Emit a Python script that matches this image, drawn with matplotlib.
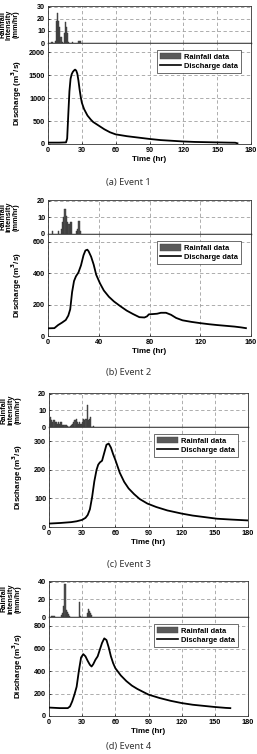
import numpy as np
import matplotlib
matplotlib.use('Agg')
import matplotlib.pyplot as plt
from matplotlib.patches import Patch
from matplotlib.lines import Line2D

plt.rcParams['font.family'] = ['Liberation Sans', 'DejaVu Sans']
plt.rcParams['font.weight'] = 'bold'

# ---- event 1 ----
ev1_rain_t = [3, 6, 7, 8, 9, 10, 11, 12, 14, 15, 16, 17, 18, 21, 27, 28]
ev1_rain_v = [1, 2, 18, 25, 18, 13, 5, 1, 8, 17, 13, 8, 1, 1, 2, 2]
ev1_q_t = [0, 5, 10, 16, 17, 18, 19, 20, 21, 22, 23, 24, 25, 26, 27, 28, 29, 30, 32, 35,
           38, 40, 45, 50, 55, 60, 70, 80, 90, 100, 110, 120, 130, 140, 150, 160, 166, 168]
ev1_q_v = [30, 30, 30, 35, 120, 650, 1150, 1420, 1520, 1570, 1600, 1620, 1600, 1530, 1380,
           1190, 1030, 900, 760, 620, 530, 480, 400, 320, 255, 210, 170, 140, 110, 85, 70,
           55, 45, 40, 35, 30, 28, 15]

# ---- event 2 ----
ev2_rain_t = [3, 8, 10, 11, 12, 13, 14, 15, 16, 17, 18, 22, 23, 24, 25]
ev2_rain_v = [2, 2, 3, 7, 10, 15, 11, 7, 6, 7, 7, 2, 3, 8, 2]
ev2_q_t = [0, 5, 8, 11, 14, 16, 17.5, 19, 20.5, 22, 24, 26, 28, 29.5, 31, 32, 34, 36, 38,
           41, 44, 48, 52, 57, 62, 67, 72, 76, 78, 79.5, 83, 86, 89, 93, 97, 101, 106, 113,
           120, 127, 133, 140, 147, 152, 156]
ev2_q_v = [49, 50, 70, 85, 102, 130, 170, 280, 350, 380, 405, 450, 515, 545, 550, 540,
           505, 455, 390, 335, 290, 250, 220, 190, 162, 140, 120, 118, 125, 138, 140, 142,
           148, 148, 135, 115, 100, 90, 82, 75, 70, 65, 60, 55, 50]

# ---- event 3 ----
ev3_rain_t = list(range(0, 41))
ev3_rain_v = [2, 6, 4, 3, 4, 3, 3, 2, 3, 2, 3, 3, 1, 1, 1, 1, 0.5, 0, 0, 0.5, 1, 2, 3,
              4, 5, 3, 2, 3, 2, 2, 3, 5, 4, 5, 13, 4, 5, 6, 0, 0, 0.5]
ev3_q_t = [0, 10, 20, 25, 30, 33, 35, 37, 39, 41, 43, 44.5, 46, 48, 50, 52, 54, 56, 58,
           60, 64, 68, 72, 77, 82, 89, 97, 107, 120, 130, 140, 152, 165, 180]
ev3_q_v = [12, 14, 17, 20, 25, 32, 42, 62, 105, 160, 200, 218, 226, 232, 260, 288, 292,
           278, 255, 235, 190, 158, 135, 115, 98, 82, 70, 58, 47, 40, 35, 29, 26, 23]

# ---- event 4 ----
ev4_rain_t = [2, 3, 4, 11, 12, 13, 14, 15, 16, 17, 18, 27, 28, 34, 35, 36, 37, 38]
ev4_rain_v = [1, 1, 1, 2, 4, 13, 37, 8, 6, 3, 1, 17, 1, 4, 9, 7, 4, 2]
ev4_q_t = [0, 10, 17, 19, 21, 23, 25, 27, 29, 31, 33, 35, 37, 38.5, 40, 42, 44, 46, 48,
           50, 52, 54, 56, 58, 60, 65, 70, 75, 80, 90, 100, 110, 120, 130, 140, 150, 160, 164]
ev4_q_v = [75, 70, 70, 85, 130, 190, 260, 400, 520, 550, 530, 490, 455, 440, 460, 500,
           530, 590, 650, 690, 675, 610, 530, 470, 425, 360, 310, 270, 240, 190, 160, 135,
           115, 100, 90, 80, 72, 70]

events = [
    dict(rt=ev1_rain_t, rv=ev1_rain_v, qt=ev1_q_t, qv=ev1_q_v, xmax=180, xstep=30,
         rmax=30, rstep=10, qmax=2200, qstep=500, qtop=2000, rainlabel='Rainfall\nIntensity\n(mm/hr)',
         cap='(a) Event 1', y0=6, y1=43, y2=144, x0=48, x1=251, capy=182),
    dict(rt=ev2_rain_t, rv=ev2_rain_v, qt=ev2_q_t, qv=ev2_q_v, xmax=160, xstep=40,
         rmax=20, rstep=10, qmax=650, qstep=200, qtop=600, rainlabel='Rainfall\nintensity\n(mm/hr)',
         cap='(b) Event 2', y0=200, y1=234, y2=336, x0=48, x1=251, capy=373),
    dict(rt=ev3_rain_t, rv=ev3_rain_v, qt=ev3_q_t, qv=ev3_q_v, xmax=180, xstep=30,
         rmax=20, rstep=10, qmax=350, qstep=100, qtop=300, rainlabel='Rainfall\nintensity\n(mm/hr)',
         cap='(c) Event 3', y0=393, y1=427, y2=527, x0=49, x1=248, capy=564),
    dict(rt=ev4_rain_t, rv=ev4_rain_v, qt=ev4_q_t, qv=ev4_q_v, xmax=180, xstep=30,
         rmax=40, rstep=20, qmax=880, qstep=200, qtop=800, rainlabel='Rainfall\nintensity\n(mm/hr)',
         cap='(d) Event 4', y0=581, y1=617, y2=716, x0=49, x1=248, capy=746),
]

W, H = 257, 754
fig = plt.figure(figsize=(W / 100, H / 100), dpi=100)

def rect(x0, x1, ytop, ybot):
    return [x0 / W, 1 - ybot / H, (x1 - x0) / W, (ybot - ytop) / H]

grid_kw = dict(color='#a0a0a0', linestyle=(0, (4, 3)), linewidth=0.6)
tick_fs = 5.2

for ev in events:
    axr = fig.add_axes(rect(ev['x0'], ev['x1'], ev['y0'], ev['y1']))
    axq = fig.add_axes(rect(ev['x0'], ev['x1'], ev['y1'], ev['y2']))

    axr.bar(ev['rt'], ev['rv'], width=1.0, align='edge', color='#505050',
            edgecolor='#333333', linewidth=0.3, zorder=3)
    axr.set_xlim(0, ev['xmax'])
    axr.set_ylim(0, ev['rmax'] * 1.02)
    axr.set_yticks(np.arange(0, ev['rmax'] + 1, ev['rstep']))
    axr.set_xticks(np.arange(0, ev['xmax'] + 1, ev['xstep']))
    axr.tick_params(axis='x', labelbottom=False, length=0)
    axr.tick_params(axis='y', labelsize=tick_fs, length=1.5, width=0.5, pad=2, direction='in')
    axr.grid(True, **grid_kw)
    axr.set_ylabel(ev['rainlabel'], fontsize=5.3, fontweight='bold', linespacing=0.95)
    axr.yaxis.set_label_coords(-0.14, 0.5)

    axq.plot(ev['qt'], ev['qv'], color='black', linewidth=1.3, zorder=3)
    axq.set_xlim(0, ev['xmax'])
    axq.set_ylim(0, ev['qmax'])
    axq.set_yticks(np.arange(0, ev['qtop'] + 1, ev['qstep']))
    axq.set_xticks(np.arange(0, ev['xmax'] + 1, ev['xstep']))
    axq.tick_params(labelsize=tick_fs, length=1.5, width=0.5, pad=2, direction='in')
    axq.grid(True, **grid_kw)
    axq.set_ylabel('Discharge (m$^3$/s)', fontsize=5.8, fontweight='bold')
    axq.yaxis.set_label_coords(-0.12, 0.5)
    axq.set_xlabel('Time (hr)', fontsize=5.8, fontweight='bold', labelpad=1.5)

    for a in (axr, axq):
        for s in a.spines.values():
            s.set_linewidth(0.6)
            s.set_color('#333333')
    axr.spines['bottom'].set_linewidth(1.0)
    axr.spines['bottom'].set_color('black')

    handles = [Patch(facecolor='#5a5a5a', edgecolor='#444444', linewidth=0.3),
               Line2D([0], [0], color='black', linewidth=1.2)]
    leg = axq.legend(handles, ['Rainfall data', 'Discharge data'], loc='upper right',
                     bbox_to_anchor=(0.97, 0.97), fontsize=5.4, frameon=True, fancybox=False,
                     edgecolor='#333333', framealpha=1, borderpad=0.4, handlelength=2.8,
                     handleheight=1.0, handletextpad=0.4, labelspacing=0.15)
    leg.get_frame().set_linewidth(0.5)

    fig.text(0.5, 1 - ev['capy'] / H, ev['cap'], ha='center', va='center',
             fontsize=6.6, fontweight='normal', family=['Noto Sans', 'DejaVu Sans'],
             color='#333333')

fig.savefig('out.png', dpi=100)
